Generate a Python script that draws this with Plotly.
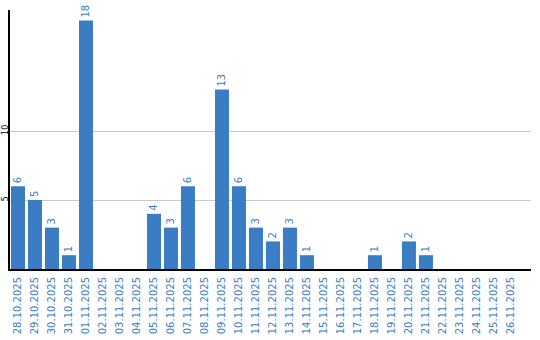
import plotly.graph_objects as go

dates = ["28.10.2025", "29.10.2025", "30.10.2025", "31.10.2025", "01.11.2025",
         "02.11.2025", "03.11.2025", "04.11.2025", "05.11.2025", "06.11.2025",
         "07.11.2025", "08.11.2025", "09.11.2025", "10.11.2025", "11.11.2025",
         "12.11.2025", "13.11.2025", "14.11.2025", "15.11.2025", "16.11.2025",
         "17.11.2025", "18.11.2025", "19.11.2025", "20.11.2025", "21.11.2025",
         "22.11.2025", "23.11.2025", "24.11.2025", "25.11.2025", "26.11.2025"]
values = [6, 5, 3, 1, 18, 0, 0, 0, 4, 3, 6, 0, 13, 6, 3, 2, 3, 1, 0, 0,
          0, 1, 0, 2, 1, 0, 0, 0, 0, 0]
y_ticks = [5, 10]

blue = "#3a7dc4"
labels = [str(v) if v else "" for v in values]

fig = go.Figure(go.Bar(
    x=dates, y=values, text=labels, textposition="outside", textangle=-90,
    marker=dict(color=blue, line=dict(width=0)),
    textfont=dict(family="DejaVu Sans", size=10, color=blue),
    cliponaxis=False, hoverinfo="skip",
))
fig.update_layout(
    width=540, height=340, margin=dict(l=10, r=9, t=10, b=71),
    paper_bgcolor="white", plot_bgcolor="white", bargap=0.176,
    showlegend=False, uniformtext=dict(minsize=10, mode="show"),
)
fig.update_xaxes(
    type="category", range=[-0.47, 30.18], tickangle=-90, showgrid=False,
    showline=True, linecolor="black", linewidth=2, ticks="", automargin=False,
    ticklabelstandoff=2,
    tickfont=dict(family="DejaVu Sans", size=10, color=blue),
)
fig.update_yaxes(
    range=[0, 18.77], tickvals=y_ticks, showgrid=True, gridcolor="#c8c8c8",
    gridwidth=1, showline=True, linecolor="black", linewidth=2,
    zeroline=False, tickangle=-90, ticks="", automargin=False, ticklabelstandoff=-3,
    tickfont=dict(family="DejaVu Sans", size=8, color="black"),
)
fig.write_html("out.html")
